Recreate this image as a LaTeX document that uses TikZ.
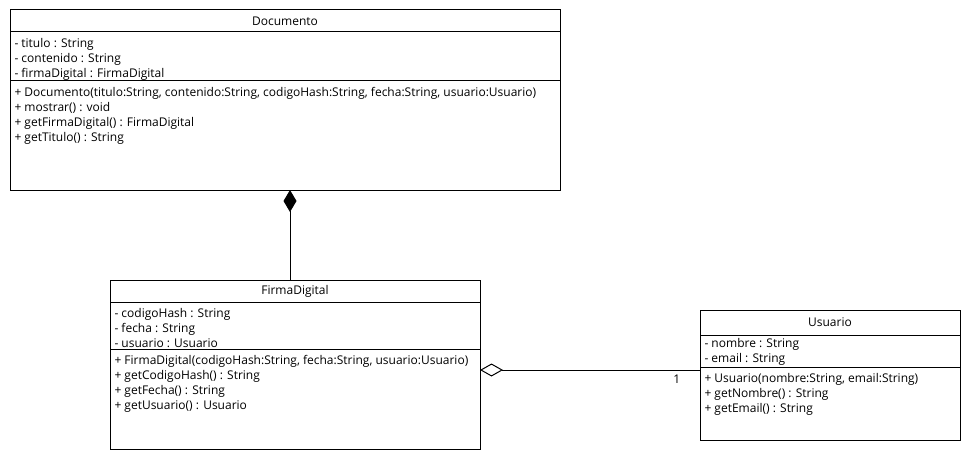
\documentclass[tikz,border=0pt]{standalone}
\usepackage{fontspec}
\setmainfont{Open Sans}
\usetikzlibrary{arrows.meta,positioning}
\begin{document}
\begin{tikzpicture}[x=1pt,y=-1pt,line width=1pt,
  box/.style={draw,rectangle,inner sep=0pt,outer sep=0pt},
  title/.style={box,font=\fontsize{12}{15}\selectfont},
  members/.style={anchor=north west,align=left,inner sep=0pt,
    font=\fontsize{12}{15}\selectfont,xshift=4pt,yshift=-5.5pt}]
  \useasboundingbox[fill=white] (0,0) rectangle (970,460);

  % Documento
  \node[title,minimum width=550pt,minimum height=22pt,anchor=north west] (doc) at (10,10) {Documento};
  \node[box,minimum width=550pt,minimum height=49pt] (doc-a) [below=0pt of doc] {};
  \node[box,minimum width=550pt,minimum height=109pt] (doc-m) [below=0pt of doc-a] {};
  \node[members] at (doc-a.north west) {- titulo : String\\- contenido : String\\- firmaDigital : FirmaDigital};
  \node[members] at (doc-m.north west) {+ Documento(titulo:String, contenido:String, codigoHash:String, fecha:String, usuario:Usuario)\\+ mostrar() : void\\+ getFirmaDigital() : FirmaDigital\\+ getTitulo() : String};

  % FirmaDigital
  \node[title,minimum width=370pt,minimum height=22pt,anchor=north west] (firma) at (110,280) {FirmaDigital};
  \node[box,minimum width=370pt,minimum height=47pt] (firma-a) [below=0pt of firma] {};
  \node[box,minimum width=370pt,minimum height=100pt] (firma-m) [below=0pt of firma-a] {};
  \node[members] at (firma-a.north west) {- codigoHash : String\\- fecha : String\\- usuario : Usuario};
  \node[members] at (firma-m.north west) {+ FirmaDigital(codigoHash:String, fecha:String, usuario:Usuario)\\+ getCodigoHash() : String\\+ getFecha() : String\\+ getUsuario() : Usuario};

  % Usuario
  \node[title,minimum width=260pt,minimum height=25pt,anchor=north west] (usr) at (700,310) {Usuario};
  \node[box,minimum width=260pt,minimum height=32pt] (usr-a) [below=0pt of usr] {};
  \node[box,minimum width=260pt,minimum height=73pt] (usr-m) [below=0pt of usr-a] {};
  \node[members,yshift=3pt] at (usr-a.north west) {- nombre : String\\- email : String};
  \node[members] at (usr-m.north west) {+ Usuario(nombre:String, email:String)\\+ getNombre() : String\\+ getEmail() : String};

  % relations
  \draw[-{Diamond[fill=black,length=22pt,width=13pt]}] ([xshift=-5pt]firma.north) -- ([xshift=5pt]doc-m.south);
  \draw[-{Diamond[open,fill=white,length=23pt,width=13pt]}] ([yshift=-3pt]usr-m.north west)
    -- ([yshift=-3pt]usr-m.north west -| firma-m.east)
    node[pos=0,below left,font=\fontsize{12}{15}\selectfont,xshift=-16pt,yshift=-1pt] (one) {1};
\end{tikzpicture}
\end{document}
